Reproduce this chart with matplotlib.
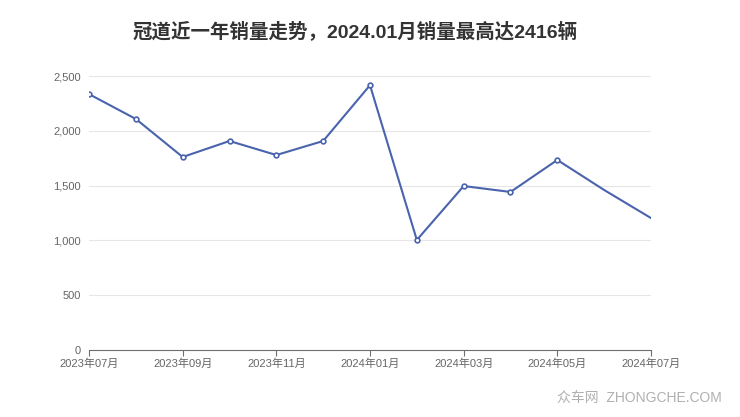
import matplotlib
matplotlib.use("Agg")
import matplotlib.pyplot as plt

plt.rcParams['font.family'] = ['Liberation Sans', 'Noto Sans CJK SC', 'DejaVu Sans']

# 数据
meses = ["2023年07月", "2023年08月", "2023年09月", "2023年10月", "2023年11月", "2023年12月",
         "2024年01月", "2024年02月", "2024年03月", "2024年04月", "2024年05月", "2024年06月",
         "2024年07月"]
vendas = [2335, 2108, 1761, 1907, 1779, 1907, 2416, 1004, 1496, 1442, 1734, 1460, 1204]
yticks = [0, 500, 1000, 1500, 2000, 2500]

fig = plt.figure(figsize=(7.4, 4.17), dpi=100)
ax = fig.add_axes([0.1203, 0.1607, 0.7594, 0.657])

x = list(range(len(meses)))
cor = "#4a63ad"
ax.plot(x, vendas, color=cor, linewidth=1.5, zorder=3)
ax.plot(x[:11], vendas[:11], linestyle="none", marker="o", markersize=3.4,
        markerfacecolor="white", markeredgecolor=cor, markeredgewidth=1.2, zorder=4)

ax.set_xlim(0, len(meses) - 1)
ax.set_ylim(0, 2500)
ax.set_yticks(yticks)
ax.set_yticklabels([f"{v:,}" for v in yticks])
ax.set_xticks(x[::2])
ax.set_xticklabels(meses[::2])

ax.grid(axis="y", color="#e6e6e6", linewidth=0.8)
ax.set_axisbelow(True)
for s in ["top", "right", "left"]:
    ax.spines[s].set_visible(False)
ax.spines["bottom"].set_color("#6e6e6e")
ax.tick_params(axis="y", length=0, pad=6, labelsize=8, labelcolor="#666666")
ax.tick_params(axis="x", length=4, color="#6e6e6e", pad=2, labelsize=8, labelcolor="#666666")

fig.text(0.48, 0.925, "冠道近一年销量走势，2024.01月销量最高达2416辆", ha="center", va="center",
         fontsize=14, fontweight="bold", color="#333333")
fig.text(0.975, 0.045, "众车网  ZHONGCHE.COM", ha="right", va="center",
         fontsize=10, color="#b0b0b0")

plt.savefig("out.png", dpi=100)
